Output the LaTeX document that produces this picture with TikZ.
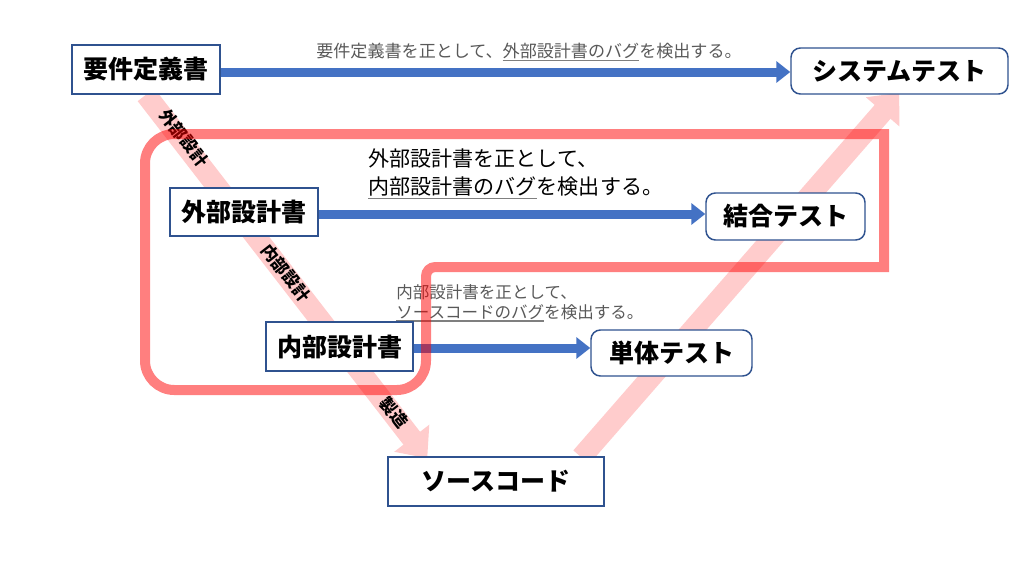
\documentclass[tikz,border=0pt]{standalone}
\usepackage{fontspec}
\setmainfont{Noto Sans CJK JP}
\usetikzlibrary{arrows.meta,calc}
\pgfdeclarelayer{bg}
\pgfsetlayers{bg,main}
\definecolor{boxblue}{HTML}{2F528F}
\definecolor{arrowblue}{HTML}{4472C4}
\definecolor{band}{HTML}{FFCCCC}
\definecolor{txtgray}{HTML}{595959}
\definecolor{ulgray}{HTML}{7F7F7F}
\newcommand\myul[1]{\setbox0\hbox{#1}\rlap{\color{ulgray}\rule[-0.2em]{\wd0}{0.07em}}\box0}
\begin{document}
\begin{tikzpicture}[x=0.75pt,y=-0.75pt,
  sqbox/.style={draw=boxblue, line width=1.1pt, fill=white, inner sep=0pt,
    font=\bfseries\fontsize{18.75pt}{22pt}\selectfont},
  rbox/.style={sqbox, rounded corners=7pt},
  bluearrow/.style={draw=arrowblue, fill=arrowblue, line width=6.75pt,
    -{Triangle[width=15.75pt,length=10.5pt]}},
  bandarrow/.style={draw=band, fill=band, line width=15.75pt,
    -{Triangle[width=32pt,length=19pt]}},
  bandlabel/.style={font=\bfseries\fontsize{12.5pt}{15pt}\selectfont, inner sep=0pt, rotate=-52},
  redline/.style={draw=red, draw opacity=0.5, line width=7.5pt},
]
\useasboundingbox (0,0) rectangle (1024,576);

% boxes
\node[sqbox, minimum width=148*0.75pt, minimum height=49*0.75pt] (req) at (146,69.5) {要件定義書};
\node[rbox, minimum width=217*0.75pt, minimum height=46*0.75pt] (sys) at (899.5,71) {システムテスト};
\node[sqbox, minimum width=148*0.75pt, minimum height=48*0.75pt] (ext) at (244,212) {外部設計書};
\node[rbox, minimum width=159*0.75pt, minimum height=47*0.75pt] (comb) at (785.5,216.5) {結合テスト};
\node[sqbox, minimum width=147*0.75pt, minimum height=49*0.75pt] (int) at (339.5,346.5) {内部設計書};
\node[rbox, minimum width=161*0.75pt, minimum height=46*0.75pt] (unit) at (671.5,353) {単体テスト};
\node[sqbox, minimum width=216*0.75pt, minimum height=49*0.75pt] (src) at (496,481.5) {ソースコード};

\begin{pgfonlayer}{bg}
\fill[white] (0,0) rectangle (1024,576);
% pink process bands
\coordinate (t1) at ($(src.north west)+(40,2)$);
\coordinate (s2) at ($(src.north west)+(194,1)$);
\coordinate (t2) at ($(sys.south west)+(109,-2)$);
\draw[bandarrow] (req.south) -- (t1);
\draw[bandarrow] (s2) -- (t2);
\node[bandlabel] (l1) at (184,138) {外部設計};
\node[bandlabel] (l2) at (286,273) {内部設計};
\node[bandlabel] (l3) at (394,413) {製造};

% texts
\node[font=\fontsize{12.8pt}{15pt}\selectfont, text=txtgray, inner sep=0pt] (lab1) at (529,52)
  {要件定義書を正として、\myul{外部設計書のバグ}を検出する。};
\node[font=\fontsize{15.8pt}{21pt}\selectfont, align=left, inner sep=0pt, anchor=west] (lab2) at (368,174)
  {外部設計書を正として、\\\myul{内部設計書のバグ}を検出する。};
\node[font=\fontsize{12.4pt}{15pt}\selectfont, text=txtgray, align=left, inner sep=0pt, anchor=west] (lab3) at (396,303)
  {内部設計書を正として、\\\myul{ソースコードのバグ}を検出する。};

% blue arrows
\draw[bluearrow] ($(req.east)+(0,2.5)$) -- ($(req.east -| sys.west)+(0,2.5)$);
\draw[bluearrow] ($(ext.east)+(0,2)$) -- ($(ext.east -| comb.west)+(0,2)$);
\draw[bluearrow] ($(int.east)+(0,1.5)$) -- ($(int.east -| unit.west)+(0,1.5)$);

% red outline
\draw[redline] (600,267) -- (884,267) -- (884,134) [rounded corners=22pt] -- (145,134) -- (145,390)
  -- (426,390) [rounded corners=7pt] -- (426,267) [sharp corners] -- cycle;
\end{pgfonlayer}
\end{tikzpicture}
\end{document}
